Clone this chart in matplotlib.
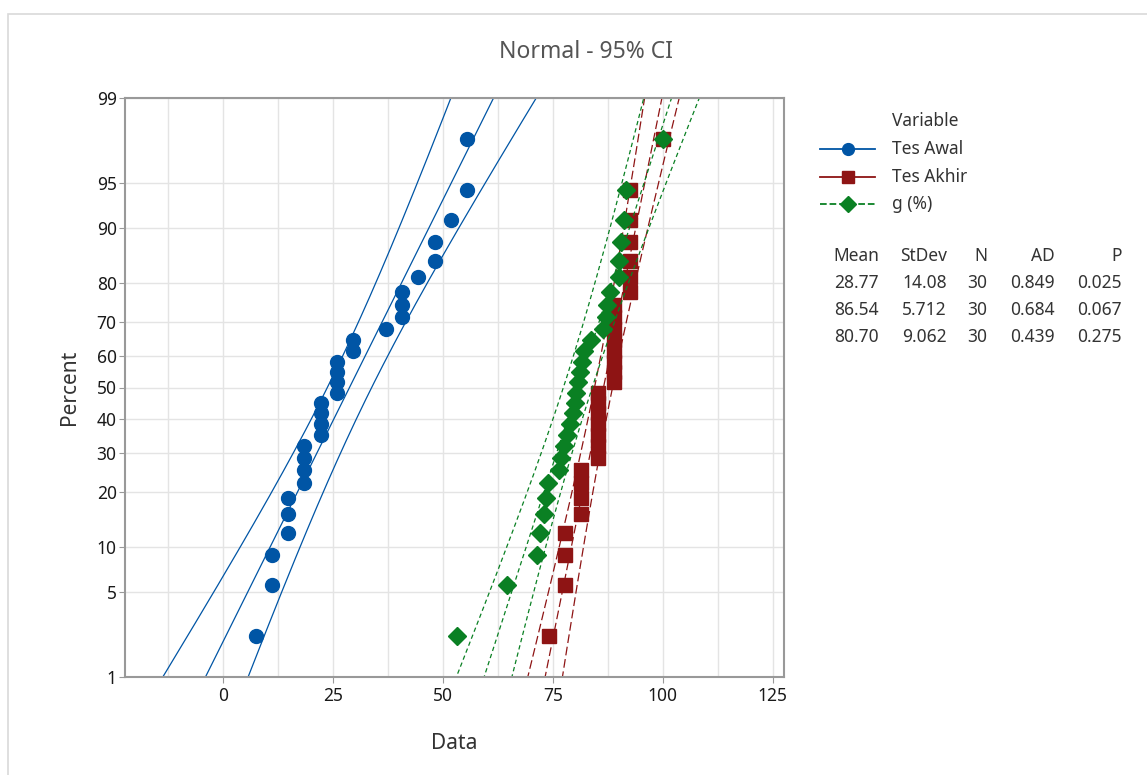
import matplotlib
matplotlib.use('Agg')
import matplotlib.pyplot as plt
from matplotlib.lines import Line2D
from matplotlib.patches import Rectangle
import numpy as np
from statistics import NormalDist

plt.rcParams['font.family'] = ['Noto Sans', 'DejaVu Sans']

# data (percent scores), sorted
tes_awal = [7.41, 11.11, 11.11, 14.81, 14.81, 14.81, 18.52, 18.52, 18.52, 18.52,
            22.22, 22.22, 22.22, 22.22, 25.93, 25.93, 25.93, 25.93, 29.63, 29.63,
            37.04, 40.74, 40.74, 40.74, 44.44, 48.15, 48.15, 51.85, 55.56, 55.56]
tes_akhir = [74.07, 77.78, 77.78, 77.78, 81.48, 81.48, 81.48, 81.48, 85.19, 85.19,
             85.19, 85.19, 85.19, 85.19, 85.19, 88.89, 88.89, 88.89, 88.89, 88.89,
             88.89, 88.89, 88.89, 92.59, 92.59, 92.59, 92.59, 92.59, 92.59, 100.0]
g_pct = [53.3, 64.7, 71.4, 72.0, 72.9, 73.4, 73.9, 76.5, 76.8, 77.5,
         78.3, 78.9, 79.6, 80.0, 80.4, 80.8, 81.1, 81.6, 82.2, 83.6,
         86.4, 87.2, 87.3, 88.0, 90.0, 90.0, 90.5, 91.1, 91.6, 100.0]

names = ['Tes Awal', 'Tes Akhir', 'g (%)']
colors = ['#0055a5', '#8e1414', '#0a8023']
markers = ['o', 's', 'D']
msizes = [10, 10.5, 9]
dashes = [None, (7, 3), (3.5, 2.5)]

stat_header = ['Mean', 'StDev', 'N', 'AD', 'P']
stat_rows = [['28.77', '14.08', '30', '0.849', '0.025'],
             ['86.54', '5.712', '30', '0.684', '0.067'],
             ['80.70', '9.062', '30', '0.439', '0.275']]

yticks = [1, 5, 10, 20, 30, 40, 50, 60, 70, 80, 90, 95, 99]

nd = NormalDist()
def z(p):
    return nd.inv_cdf(p / 100.0)

W, H = 1147, 775
fig = plt.figure(figsize=(W / 100, H / 100), dpi=100)
fig.patches.append(Rectangle((8 / W, -0.1), 1.2, (H - 14) / H + 0.1, transform=fig.transFigure,
                             fill=False, edgecolor='#d9d9d9', linewidth=1.2))
ax = fig.add_axes([125 / W, (H - 677) / H, (784 - 125) / W, (677 - 98) / H])

zgrid = np.linspace(z(0.3), z(99.7), 200)
for data, c, m, ms, d in zip([tes_awal, tes_akhir, g_pct], colors, markers, msizes, dashes):
    x = np.array(data)
    n = len(x)
    mu, sd = x.mean(), x.std(ddof=1)
    fit = mu + zgrid * sd
    half = 1.96 * sd * np.sqrt(1.0 / n + zgrid ** 2 / (2.0 * n))
    for xs in (fit - half, fit, fit + half):
        ln, = ax.plot(xs, zgrid, color=c, lw=0.9)
        if d:
            ln.set_dashes(d)
    ranks = np.arange(1, n + 1)
    pp = (ranks - 0.3) / (n + 0.4) * 100
    ax.plot(np.sort(x), [z(p) for p in pp], linestyle='none', marker=m, markersize=ms,
            color=c, markeredgecolor=c)

ax.set_xlim(-22.3, 127.6)
ax.set_ylim(z(1), z(99))
ax.set_xticks([0, 25, 50, 75, 100, 125])
ax.set_xticks(np.arange(-12.5, 127, 25), minor=True)
ax.set_yticks([z(p) for p in yticks])
ax.set_yticklabels([str(p) for p in yticks])
ax.grid(True, which='both', color='#e4e4e4', lw=1.0)
ax.set_axisbelow(True)
ax.tick_params(which='minor', length=0)
ax.tick_params(which='major', length=4, color='#999999', labelsize=12.5, labelcolor='#1a1a1a')
ax.tick_params(axis='y', pad=2)
for s in ax.spines.values():
    s.set_color('#999999')
    s.set_linewidth(1.5)

ax.set_xlabel('Data', fontsize=15, color='#333333', labelpad=20)
ax.set_ylabel('Percent', fontsize=15, color='#333333', labelpad=12)
fig.text(586 / W, 1 - 52 / H, 'Normal - 95% CI', ha='center', va='center',
         fontsize=16.5, color='#555555')

# legend
fig.text(892 / W, 1 - 121 / H, 'Variable', ha='left', va='center', fontsize=12.5, color='#333333')
for i, (nm, c, m, ms) in enumerate(zip(names, colors, markers, msizes)):
    yy = 1 - (149 + i * 27.5) / H
    ls = '--' if i == 2 else '-'
    ln = Line2D([820 / W, 875 / W], [yy, yy], transform=fig.transFigure, color=c, lw=1.3,
                linestyle=ls)
    fig.lines.append(ln)
    fig.lines.append(Line2D([847.5 / W], [yy], transform=fig.transFigure, marker=m,
                            markersize=ms * 0.85, color=c, linestyle='none'))
    fig.text(892 / W, yy, nm, ha='left', va='center', fontsize=12.5, color='#333333')

# stats table
col_right = [879, 947, 987, 1055, 1122]
for j, h in enumerate(stat_header):
    fig.text(col_right[j] / W, 1 - 256 / H, h, ha='right', va='center', fontsize=12.5, color='#333333')
for i, row in enumerate(stat_rows):
    for j, v in enumerate(row):
        fig.text(col_right[j] / W, 1 - (283 + i * 27) / H, v, ha='right', va='center',
                 fontsize=12.5, color='#333333')

fig.savefig('out.png', dpi=100)
